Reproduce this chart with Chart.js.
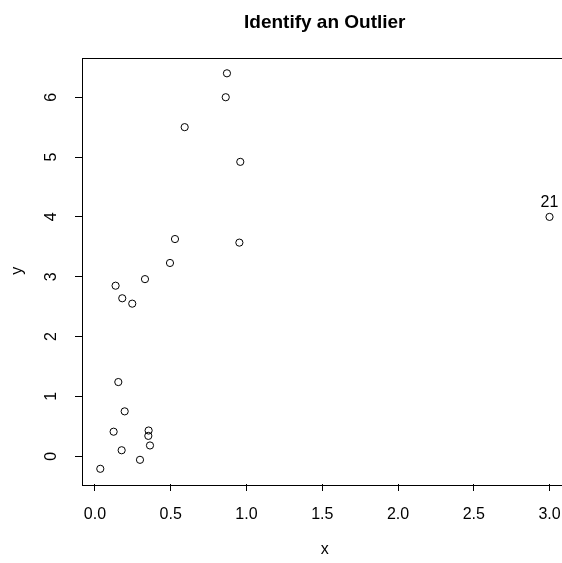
<!DOCTYPE html>
<html>
<head>
<meta charset="utf-8">
<script src="https://cdn.jsdelivr.net/npm/chart.js@4.4.1/dist/chart.umd.min.js"></script>
<style>
  html, body { margin: 0; padding: 0; background: #fff; overflow: hidden; }
  #wrap { width: 562px; height: 563px; overflow: hidden; }
</style>
</head>
<body>
<div id="wrap"><canvas id="outlierChart" width="570" height="563"></canvas></div>
<script>
const xValues = [0.871, 0.863, 0.592, 0.959, 0.528, 0.953, 0.495, 0.330, 0.136, 0.180,
                 0.246, 0.154, 0.196, 0.123, 0.354, 0.352, 0.363, 0.176, 0.297, 0.035, 3.0];
const yValues = [6.40, 6.00, 5.50, 4.92, 3.63, 3.57, 3.23, 2.96, 2.85, 2.64,
                 2.55, 1.24, 0.75, 0.41, 0.43, 0.34, 0.18, 0.10, -0.06, -0.21, 4.0];
const pointLabels = ["", "", "", "", "", "", "", "", "", "", "", "", "", "", "", "", "", "", "", "", "21"];
const xTicks = [0, 0.5, 1, 1.5, 2, 2.5, 3];
const yTicks = [0, 1, 2, 3, 4, 5, 6];

const chartTitle = "Identify an Outlier";
const FONT = '"Liberation Sans", Arial, Helvetica, sans-serif';

const points = xValues.map((x, i) => ({ x: x, y: yValues[i] }));

// box, title, rotated y labels and point label, drawn R-style
const rDecor = {
  id: "rDecor",
  afterDraw(chart) {
    const { ctx, chartArea, scales } = chart;
    ctx.save();
    ctx.strokeStyle = "#000";
    ctx.lineWidth = 1;
    ctx.strokeRect(Math.round(chartArea.left) + 0.5, Math.round(chartArea.top) + 0.5,
      Math.round(chartArea.right - chartArea.left), Math.round(chartArea.bottom - chartArea.top));

    ctx.fillStyle = "#000";
    ctx.font = "bold 19px " + FONT;
    ctx.textAlign = "center";
    ctx.textBaseline = "alphabetic";
    ctx.fillText(chartTitle, (chartArea.left + chartArea.right) / 2, 28);

    ctx.font = "16px " + FONT;
    yTicks.forEach(v => {
      const py = scales.y.getPixelForValue(v);
      ctx.save();
      ctx.translate(52, py);
      ctx.rotate(-Math.PI / 2);
      ctx.textAlign = "center";
      ctx.textBaseline = "middle";
      ctx.fillText(String(v), 0, 0);
      ctx.restore();
    });

    ctx.textAlign = "center";
    ctx.textBaseline = "alphabetic";
    pointLabels.forEach((lab, i) => {
      if (!lab) return;
      const px = scales.x.getPixelForValue(xValues[i]);
      const py = scales.y.getPixelForValue(yValues[i]);
      ctx.fillText(lab, px, py - 10);
    });
    ctx.restore();
  }
};

new Chart(document.getElementById("outlierChart").getContext("2d"), {
  type: "scatter",
  data: {
    datasets: [{
      data: points,
      pointStyle: "circle",
      pointRadius: 3.6,
      pointHoverRadius: 3.6,
      pointBorderWidth: 1,
      pointBorderColor: "#000",
      pointBackgroundColor: "rgba(0,0,0,0)"
    }]
  },
  options: {
    responsive: false,
    animation: false,
    events: [],
    layout: { autoPadding: false, padding: { top: 57.5, right: 2.5, left: 0, bottom: 0 } },
    plugins: { legend: { display: false }, tooltip: { enabled: false }, title: { display: false } },
    scales: {
      x: {
        type: "linear",
        min: -0.0857,
        max: 3.1187,
        afterBuildTicks: s => { s.ticks = xTicks.map(v => ({ value: v })); },
        afterFit: s => { s.height = 79; s.paddingLeft = 0; s.paddingRight = 0; },
        border: { display: false },
        grid: { drawOnChartArea: false, drawTicks: true, tickLength: 7, color: "#000", lineWidth: 1 },
        ticks: {
          color: "#000",
          font: { family: FONT, size: 16 },
          padding: 14,
          maxRotation: 0,
          autoSkip: false,
          callback: v => v.toFixed(1)
        },
        title: { display: true, text: "x", color: "#000", font: { family: FONT, size: 16 }, padding: { top: 0, bottom: 4 } }
      },
      y: {
        type: "linear",
        min: -0.464,
        max: 6.664,
        afterBuildTicks: s => { s.ticks = yTicks.map(v => ({ value: v })); },
        afterFit: s => { s.width = 82; s.paddingTop = 0; s.paddingBottom = 0; },
        border: { display: false },
        grid: { drawOnChartArea: false, drawTicks: true, tickLength: 7, color: "#000", lineWidth: 1 },
        ticks: { display: false },
        title: { display: true, text: "y", color: "#000", font: { family: FONT, size: 16 }, padding: { top: 8, bottom: 0 } }
      }
    }
  },
  plugins: [rDecor]
});
</script>
</body>
</html>
